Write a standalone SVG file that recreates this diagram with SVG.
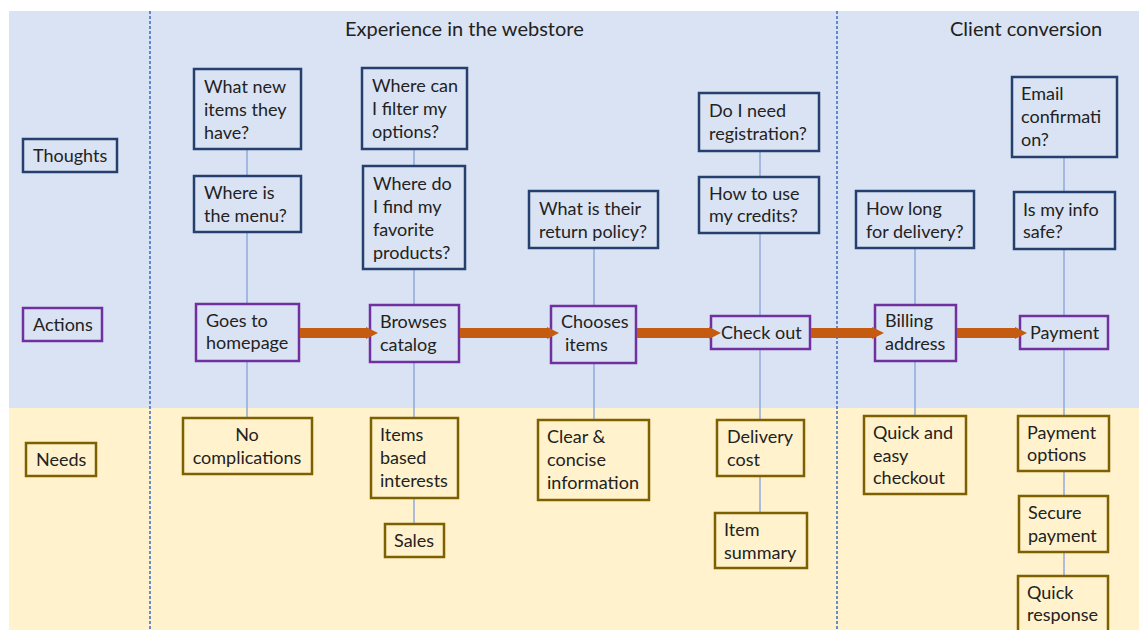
<svg xmlns="http://www.w3.org/2000/svg" width="1139" height="630" viewBox="0 0 1139 630">
  <style>
    text { font-family: Lato, "Open Sans", "Liberation Sans", sans-serif; font-size: 18px; fill: #222; }
    .hdr { font-size: 20px; }
    .thought { fill: #dae3f3; stroke: #25406e; stroke-width: 2.5; }
    .action { fill: #dae3f3; stroke: #7030a0; stroke-width: 2.5; }
    .need { fill: #fff2cc; stroke: #7f6000; stroke-width: 2.5; }
    .link { stroke: #8faadc; stroke-width: 1.5; fill: none; }
    .flow { stroke: #c55a11; stroke-width: 10; fill: none; }
    .sep { stroke: #4472c4; stroke-width: 1.6; stroke-dasharray: 3 2; }
  </style>
  <defs>
    <marker id="head" viewBox="0 0 10 10" refX="0" refY="5" markerWidth="1.2" markerHeight="1.7" orient="auto" markerUnits="strokeWidth">
      <path d="M0,0 L10,5 L0,10 Z" fill="#c55a11"/>
    </marker>
  </defs>

  <!-- bands -->
  <rect x="0" y="0" width="1139" height="630" fill="#ffffff"/>
  <rect x="9" y="11" width="1130" height="397" fill="#dae3f3"/>
  <rect x="9" y="408" width="1130" height="222" fill="#fff2cc"/>

  <!-- phase separators -->
  <line class="sep" x1="150" y1="11" x2="150" y2="630"/>
  <line class="sep" x1="837" y1="11" x2="837" y2="630"/>

  <!-- phase headers -->
  <text class="hdr" x="345" y="36">Experience in the webstore</text>
  <text class="hdr" x="950" y="36">Client conversion</text>

  <!-- vertical links between the stacked boxes (drawn behind them) -->
  <g id="connectors">
    <line class="link" x1="247" y1="149" x2="247" y2="418"/>
    <line class="link" x1="414" y1="149" x2="414" y2="524"/>
    <line class="link" x1="594" y1="248" x2="594" y2="420"/>
    <line class="link" x1="760" y1="151" x2="760" y2="513"/>
    <line class="link" x1="915" y1="248" x2="915" y2="416"/>
    <line class="link" x1="1064" y1="157" x2="1064" y2="576"/>
  </g>

  <!-- row labels -->
  <g id="label-thoughts"><rect class="thought" x="23" y="139" width="94" height="33"/><text x="33" y="162">Thoughts</text></g>
  <g id="label-actions"><rect class="action" x="23" y="308" width="79" height="33"/><text x="33" y="331">Actions</text></g>
  <g id="label-needs"><rect class="need" x="26" y="443" width="70" height="33"/><text x="36" y="466">Needs</text></g>

  <!-- thoughts -->
  <g id="t1"><rect class="thought" x="194" y="69" width="107" height="80"/>
    <text x="204" y="93">What new</text><text x="204" y="116">items they</text><text x="204" y="139">have?</text></g>
  <g id="t2"><rect class="thought" x="194" y="176" width="107" height="56"/>
    <text x="204" y="199">Where is</text><text x="204" y="222">the menu?</text></g>
  <g id="t3"><rect class="thought" x="362" y="68" width="105" height="81"/>
    <text x="372" y="92">Where can</text><text x="372" y="115">I filter my</text><text x="372" y="138">options?</text></g>
  <g id="t4"><rect class="thought" x="363" y="166" width="102" height="103"/>
    <text x="373" y="190">Where do</text><text x="373" y="213">I find my</text><text x="373" y="236">favorite</text><text x="373" y="259">products?</text></g>
  <g id="t5"><rect class="thought" x="529" y="191" width="129" height="57"/>
    <text x="539" y="215">What is their</text><text x="539" y="238">return policy?</text></g>
  <g id="t6"><rect class="thought" x="699" y="93" width="120" height="58"/>
    <text x="709" y="117">Do I need</text><text x="709" y="140">registration?</text></g>
  <g id="t7"><rect class="thought" x="699" y="177" width="120" height="56"/>
    <text x="709" y="200">How to use</text><text x="709" y="222">my credits?</text></g>
  <g id="t8"><rect class="thought" x="856" y="191" width="118" height="57"/>
    <text x="866" y="215">How long</text><text x="866" y="238">for delivery?</text></g>
  <g id="t9"><rect class="thought" x="1012" y="77" width="105" height="80"/>
    <text x="1021" y="100">Email</text><text x="1021" y="123">confirmati</text><text x="1021" y="146">on?</text></g>
  <g id="t10"><rect class="thought" x="1014" y="192" width="101" height="57"/>
    <text x="1023" y="216">Is my info</text><text x="1023" y="238">safe?</text></g>

  <!-- actions -->
  <g id="a1"><rect class="action" x="196" y="304" width="103" height="57"/>
    <text x="206" y="327">Goes to</text><text x="206" y="349">homepage</text></g>
  <g id="a2"><rect class="action" x="370" y="305" width="89" height="57"/>
    <text x="380" y="328">Browses</text><text x="380" y="351">catalog</text></g>
  <g id="a3"><rect class="action" x="551" y="306" width="85" height="57"/>
    <text x="561" y="328">Chooses</text><text x="565" y="351">items</text></g>
  <g id="a4"><rect class="action" x="711" y="316" width="99" height="33"/>
    <text x="721" y="339">Check out</text></g>
  <g id="a5"><rect class="action" x="875" y="305" width="81" height="56"/>
    <text x="885" y="327">Billing</text><text x="885" y="350">address</text></g>
  <g id="a6"><rect class="action" x="1020" y="316" width="88" height="33"/>
    <text x="1030" y="339">Payment</text></g>

  <!-- needs -->
  <g id="n1"><rect class="need" x="183" y="418" width="129" height="56"/>
    <text x="247" y="441" text-anchor="middle">No</text><text x="247" y="464" text-anchor="middle">complications</text></g>
  <g id="n2"><rect class="need" x="371" y="418" width="87" height="80"/>
    <text x="380" y="441">Items</text><text x="380" y="464">based</text><text x="380" y="487">interests</text></g>
  <g id="n3"><rect class="need" x="385" y="524" width="59" height="33"/>
    <text x="394" y="547">Sales</text></g>
  <g id="n4"><rect class="need" x="538" y="420" width="111" height="80"/>
    <text x="547" y="443">Clear &amp;</text><text x="547" y="466">concise</text><text x="547" y="489">information</text></g>
  <g id="n5"><rect class="need" x="717" y="420" width="87" height="56"/>
    <text x="727" y="443">Delivery</text><text x="727" y="466">cost</text></g>
  <g id="n6"><rect class="need" x="715" y="513" width="92" height="55"/>
    <text x="724" y="536">Item</text><text x="724" y="559">summary</text></g>
  <g id="n7"><rect class="need" x="864" y="416" width="102" height="78"/>
    <text x="873" y="439">Quick and</text><text x="873" y="462">easy</text><text x="873" y="484">checkout</text></g>
  <g id="n8"><rect class="need" x="1018" y="416" width="91" height="55"/>
    <text x="1027" y="439">Payment</text><text x="1027" y="461">options</text></g>
  <g id="n9"><rect class="need" x="1019" y="496" width="89" height="56"/>
    <text x="1028" y="519">Secure</text><text x="1028" y="542">payment</text></g>
  <g id="n10"><rect class="need" x="1018" y="576" width="90" height="70"/>
    <text x="1027" y="599">Quick</text><text x="1027" y="621">response</text></g>

  <!-- flow arrows between actions; heads overlap the next box edge -->
  <g id="flow-connectors">
    <line class="flow" x1="300" y1="333" x2="366" y2="333" marker-end="url(#head)"/>
    <line class="flow" x1="460" y1="333" x2="547" y2="333" marker-end="url(#head)"/>
    <line class="flow" x1="637" y1="333" x2="709" y2="333" marker-end="url(#head)"/>
    <line class="flow" x1="811" y1="333" x2="872" y2="333" marker-end="url(#head)"/>
    <line class="flow" x1="957" y1="333" x2="1015" y2="333" marker-end="url(#head)"/>
  </g>
</svg>
